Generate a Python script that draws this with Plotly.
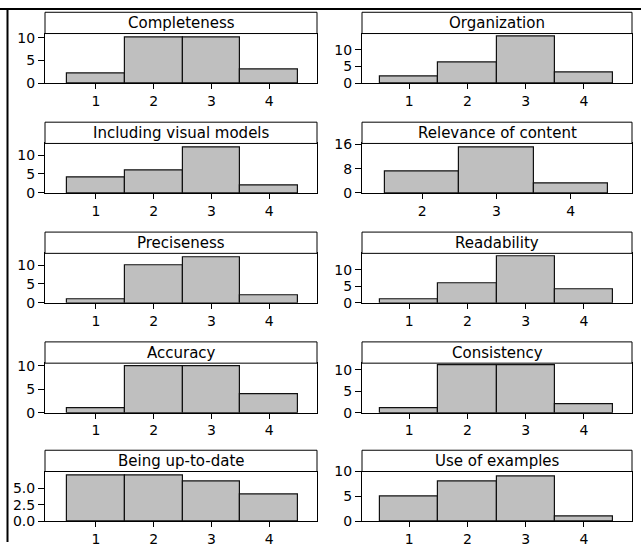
import plotly.graph_objects as go

# ---- data ----
titles = ["Completeness", "Organization", "Including visual models", "Relevance of content",
          "Preciseness", "Readability", "Accuracy", "Consistency",
          "Being up-to-date", "Use of examples"]
cats_1to4 = [1, 2, 3, 4]
cats_2to4 = [2, 3, 4]
completeness = [2, 10, 10, 3]
organization = [2, 6, 14, 3]
visual_models = [4, 6, 12, 2]
relevance = [7, 15, 3]
preciseness = [1, 10, 12, 2]
readability = [1, 6, 14, 4]
accuracy = [1, 10, 10, 4]
consistency = [1, 11, 11, 2]
up_to_date = [7, 7, 6, 4]
examples = [5, 8, 9, 1]

series = [
    (cats_1to4, completeness), (cats_1to4, organization),
    (cats_1to4, visual_models), (cats_2to4, relevance),
    (cats_1to4, preciseness), (cats_1to4, readability),
    (cats_1to4, accuracy), (cats_1to4, consistency),
    (cats_1to4, up_to_date), (cats_1to4, examples),
]
ytickvals = [[0, 5, 10], [0, 5, 10], [0, 5, 10], [0, 8, 16], [0, 5, 10],
             [0, 5, 10], [0, 5, 10], [0, 5, 10], [0, 2.5, 5], [0, 5, 10]]
yticktext = [["0", "5", "10"]] * 3 + [["0", "8", "16"]] + [["0", "5", "10"]] * 4 + \
            [["0.0", "2.5", "5.0"], ["0", "5", "10"]]
ytops = [10.9, 14.8, 13.05, 16.3, 13.1, 15.05, 10.6, 11.56, 7.57, 10.0]

# ---- layout (pixels) ----
W, H = 641, 550
col_x = [(45, 317), (362, 632)]
lo_pad = [0.88, 0.81]
strip_top = [4.4, 117.6, 230.8, 343.9, 455.5]
strip_h = 21.9
plot_h = 51.0
strip_bot = [s + strip_h for s in strip_top]
axis_y = [s + plot_h for s in strip_bot]

FONT = "DejaVu Sans"
fig = go.Figure()
shapes = []
annotations = []
layout = {}
for i, (title, (cats, vals)) in enumerate(zip(titles, series)):
    r, c = divmod(i, 2)
    n = i + 1
    xa = "x" if n == 1 else f"x{n}"
    ya = "y" if n == 1 else f"y{n}"
    fig.add_trace(go.Bar(
        x=cats, y=vals, width=1, xaxis=xa, yaxis=ya,
        marker=dict(color="#bfbfbf", line=dict(color="#111111", width=1.2)),
        showlegend=False, hoverinfo="x+y"))
    x0, x1 = col_x[c]
    lo, hi = min(cats), max(cats)
    layout["xaxis" if n == 1 else f"xaxis{n}"] = dict(
        domain=[x0 / W, x1 / W], anchor=ya,
        range=[lo - lo_pad[c], hi + 0.825], tickvals=cats, ticks="outside", ticklen=5,
        tickwidth=1, tickcolor="black", showline=True, linecolor="black", linewidth=1,
        mirror=True, showgrid=False, zeroline=False,
        tickfont=dict(family=FONT, size=14, color="black"))
    layout["yaxis" if n == 1 else f"yaxis{n}"] = dict(
        domain=[1 - axis_y[r] / H, 1 - strip_bot[r] / H], anchor=xa,
        range=[0, ytops[i]], tickvals=ytickvals[i], ticktext=yticktext[i],
        ticks="outside", ticklen=6, tickwidth=1, tickcolor="black",
        showline=True, linecolor="black", linewidth=1, mirror=True,
        showgrid=False, zeroline=False,
        tickfont=dict(family=FONT, size=14, color="black"))
    shapes.append(dict(type="rect", xref="paper", yref="paper",
                       x0=x0 / W, x1=x1 / W, y0=1 - strip_bot[r] / H, y1=1 - strip_top[r] / H,
                       fillcolor="white", line=dict(color="black", width=1)))
    annotations.append(dict(text=title, xref="paper", yref="paper",
                            x=(x0 + x1) / 2 / W, y=1 - (strip_top[r] + strip_bot[r]) / 2 / H,
                            xanchor="center", yanchor="middle", showarrow=False,
                            font=dict(family=FONT, size=15, color="black")))

# outer frame pieces (top and left)
shapes.append(dict(type="line", xref="paper", yref="paper", x0=0, x1=1,
                   y0=1 - 1 / H, y1=1 - 1 / H, line=dict(color="black", width=2)))
shapes.append(dict(type="line", xref="paper", yref="paper", x0=7.5 / W, x1=7.5 / W,
                   y0=0, y1=1, line=dict(color="black", width=2)))

fig.update_layout(width=W, height=H, margin=dict(l=0, r=0, t=0, b=0),
                  paper_bgcolor="white", plot_bgcolor="white", bargap=0,
                  shapes=shapes, annotations=annotations, **layout)
fig.write_html("out.html", config={"displayModeBar": False},
               post_script="document.body.style.margin='0';document.body.style.overflow='hidden';"
                           "document.documentElement.style.overflow='hidden';")
